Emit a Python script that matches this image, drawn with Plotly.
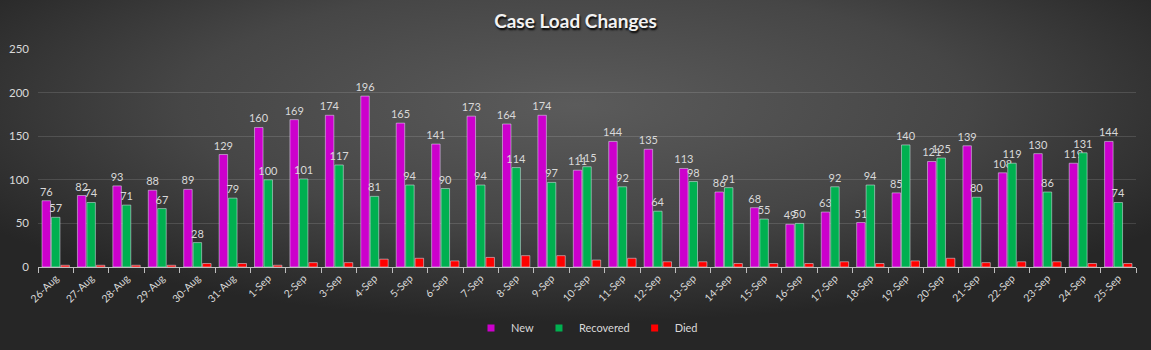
import base64
import plotly.graph_objects as go

dates = ["26-Aug", "27-Aug", "28-Aug", "29-Aug", "30-Aug", "31-Aug", "1-Sep", "2-Sep", "3-Sep",
         "4-Sep", "5-Sep", "6-Sep", "7-Sep", "8-Sep", "9-Sep", "10-Sep", "11-Sep", "12-Sep",
         "13-Sep", "14-Sep", "15-Sep", "16-Sep", "17-Sep", "18-Sep", "19-Sep", "20-Sep",
         "21-Sep", "22-Sep", "23-Sep", "24-Sep", "25-Sep"]
new_cases = [76, 82, 93, 88, 89, 129, 160, 169, 174, 196, 165, 141, 173, 164, 174, 111, 144, 135,
             113, 86, 68, 49, 63, 51, 85, 121, 139, 108, 130, 119, 144]
recovered = [57, 74, 71, 67, 28, 79, 100, 101, 117, 81, 94, 90, 94, 114, 97, 115, 92, 64,
             98, 91, 55, 50, 92, 94, 140, 125, 80, 119, 86, 131, 74]
died = [2, 2, 2, 2, 4, 4, 2, 5, 5, 9, 10, 7, 11, 13, 13, 8, 10, 6,
        6, 4, 4, 4, 6, 4, 7, 10, 5, 6, 6, 4, 4]
series_names = ["New", "Recovered", "Died"]
series_colors = ["#cc00cc", "#00b050", "#ff0000"]

W, H = 1151, 350
L, R, T, B = 38, 15, 49, 83
pw, ph = W - L - R, H - T - B

svg = (
    '<svg xmlns="http://www.w3.org/2000/svg" width="1151" height="350" preserveAspectRatio="none" viewBox="0 0 1151 350">'
    '<defs><radialGradient id="g" cx="0.5" cy="0.3" r="0.62" gradientUnits="objectBoundingBox">'
    '<stop offset="0" stop-color="#5b5b5b"/><stop offset="0.55" stop-color="#464646"/>'
    '<stop offset="1" stop-color="#262626"/></radialGradient></defs>'
    '<rect x="0" y="0" width="1151" height="350" fill="url(#g)"/></svg>'
)
bg_src = "data:image/svg+xml;base64," + base64.b64encode(svg.encode()).decode()

fam = "Lato, Open Sans, sans-serif"
label_font = dict(family=fam, size=11, color="#d9d9d9")

fig = go.Figure()
for name, vals, col, lab in zip(series_names, [new_cases, recovered, died], series_colors,
                                [True, True, False]):
    kw = dict(text=vals, textposition="outside", textfont=label_font,
              constraintext="none", cliponaxis=False) if lab else {}
    fig.add_trace(go.Bar(name=name, x=dates, y=vals, marker_color=col, showlegend=False, **kw))
# legend entries with small square markers
for name, col in zip(series_names, series_colors):
    fig.add_trace(go.Scatter(name=name, x=[None], y=[None], mode="markers",
                             marker=dict(symbol="square", size=7, color=col), showlegend=True))

fig.update_layout(
    width=W, height=H,
    margin=dict(l=L, r=R, t=T, b=B, autoexpand=False),
    paper_bgcolor="#262626",
    plot_bgcolor="rgba(0,0,0,0)",
    barmode="group", bargap=0.2, bargroupgap=0.1,
    title=dict(text="<b>Case Load Changes</b>", x=0.5, xanchor="center", y=0.94, yanchor="middle",
               font=dict(family=fam, size=19, color="#f2f2f2",
                         shadow="1px 2px 2px #000000")),
    showlegend=True,
    legend=dict(orientation="h", x=0.5, xanchor="center", y=-0.28, yanchor="middle",
                font=dict(family=fam, size=11, color="#d9d9d9"),
                bgcolor="rgba(0,0,0,0)", itemwidth=30, traceorder="normal"),
    font=dict(family=fam, color="#d9d9d9"),
    images=[dict(source=bg_src, xref="paper", yref="paper",
                 x=-L / pw, y=1 + T / ph, sizex=W / pw, sizey=H / ph,
                 xanchor="left", yanchor="top", sizing="stretch", layer="below")],
)
fig.update_xaxes(
    automargin=False,
    tickangle=-45, tickfont=dict(size=10.5, color="#d9d9d9"),
    ticks="outside", tickson="boundaries", ticklen=5, tickcolor="#bfbfbf",
    showline=True, linecolor="#bfbfbf", linewidth=1, showgrid=False, zeroline=False,
)
fig.update_yaxes(
    automargin=False,
    range=[0, 250], dtick=50, tickfont=dict(size=11.5, color="#d9d9d9"),
    showgrid=True, gridcolor="rgba(255,255,255,0.13)", gridwidth=1, zeroline=False,
    showline=False, ticks="", ticklabelstandoff=8,
)

fig.write_html("out.html")
